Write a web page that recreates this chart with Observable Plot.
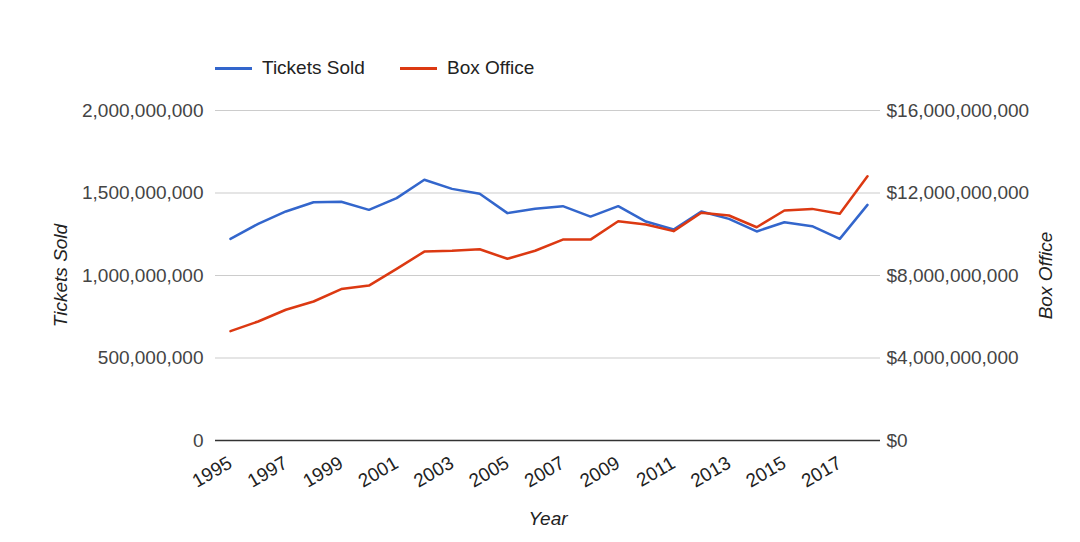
<!DOCTYPE html>
<html><head><meta charset="utf-8">
<script src="https://cdn.jsdelivr.net/npm/d3@7"></script>
<script src="https://cdn.jsdelivr.net/npm/@observablehq/plot@0.6"></script>
<style>
body{margin:0;background:#fff;font-family:Arial,"Liberation Sans",sans-serif;}
#wrap{position:relative;width:1080px;height:542px;overflow:hidden;}
.lg{position:absolute;top:56px;height:24px;display:flex;align-items:center;font-size:19px;color:#222;white-space:nowrap;}
.sw{display:inline-block;width:37px;height:3px;margin-right:10px;}
</style></head>
<body><div id="wrap"></div>
<script>
const years = [1995,1996,1997,1998,1999,2000,2001,2002,2003,2004,2005,2006,2007,2008,2009,2010,2011,2012,2013,2014,2015,2016,2017,2018];
const ticketsSold = [1222e6,1313e6,1388e6,1444e6,1447e6,1398e6,1469e6,1580e6,1525e6,1495e6,1378e6,1404e6,1420e6,1357e6,1420e6,1327e6,1279e6,1388e6,1343e6,1267e6,1323e6,1299e6,1222e6,1428e6];
const boxOffice = [5.30e9,5.77e9,6.34e9,6.74e9,7.34e9,7.51e9,8.32e9,9.16e9,9.20e9,9.27e9,8.81e9,9.20e9,9.74e9,9.74e9,10.63e9,10.47e9,10.15e9,11.04e9,10.91e9,10.34e9,11.15e9,11.23e9,10.99e9,12.81e9];
const leftTicks = [0,500e6,1000e6,1500e6,2000e6];
const rightTicks = [0,4e9,8e9,12e9,16e9];
const xTicks = [1995,1997,1999,2001,2003,2005,2007,2009,2011,2013,2015,2017];
const seriesNames = ["Tickets Sold","Box Office"];
const colors = ["#3366cc","#dc3912"];

const ratio = 2000e6 / 16e9;
const tData = years.map((y,i)=>({year:y, value:ticketsSold[i]}));
const bData = years.map((y,i)=>({year:y, value:boxOffice[i]*ratio}));
const fmt = d3.format(",");

const chart = Plot.plot({
  width:1080, height:542,
  marginTop:110, marginBottom:102, marginLeft:215, marginRight:200,
  style:{fontSize:"19px", fontFamily:"Arial, 'Liberation Sans', sans-serif", color:"#444", background:"#fff"},
  x:{domain:[1994.46,2018.47]},
  y:{domain:[0,2000e6]},
  marks:[
    Plot.gridY(leftTicks.filter(d=>d>0), {stroke:"#cccccc", strokeOpacity:1, strokeWidth:1.2}),
    Plot.axisY(leftTicks, {anchor:"left", tickSize:0, tickPadding:12, tickFormat:fmt, label:null, fill:"#444"}),
    Plot.axisY(rightTicks.map(d=>d*ratio), {anchor:"right", tickSize:0, tickPadding:6, tickFormat:d=>"$"+fmt(Math.round(d/ratio)), label:null, fill:"#444"}),
    Plot.axisX(xTicks, {anchor:"bottom", tickRotate:-30, tickSize:0, tickPadding:21, tickFormat:d=>String(d), label:null, fill:"#222"}),
    Plot.ruleY([0], {stroke:"#333", strokeWidth:1.5}),
    Plot.line(tData, {x:"year", y:"value", stroke:colors[0], strokeWidth:2.5}),
    Plot.line(bData, {x:"year", y:"value", stroke:colors[1], strokeWidth:2.5}),
    Plot.text(["Tickets Sold"], {frameAnchor:"left", textAnchor:"middle", text:d=>d, rotate:-90, dx:-155, fontStyle:"italic", fill:"#222", fontSize:19}),
    Plot.text(["Box Office"], {frameAnchor:"right", textAnchor:"middle", text:d=>d, rotate:-90, dx:165, fontStyle:"italic", fill:"#222", fontSize:19}),
    Plot.text(["Year"], {frameAnchor:"bottom", text:d=>d, dy:84, fontStyle:"italic", fill:"#222", fontSize:19})
  ]
});
const wrap = document.getElementById("wrap");
wrap.appendChild(chart);
const lefts = [215, 400];
seriesNames.forEach((n,i)=>{
  const d = document.createElement("div");
  d.className = "lg";
  d.style.left = lefts[i]+"px";
  d.innerHTML = `<span class="sw" style="background:${colors[i]}"></span><span>${n}</span>`;
  wrap.appendChild(d);
});
</script>
</body></html>
